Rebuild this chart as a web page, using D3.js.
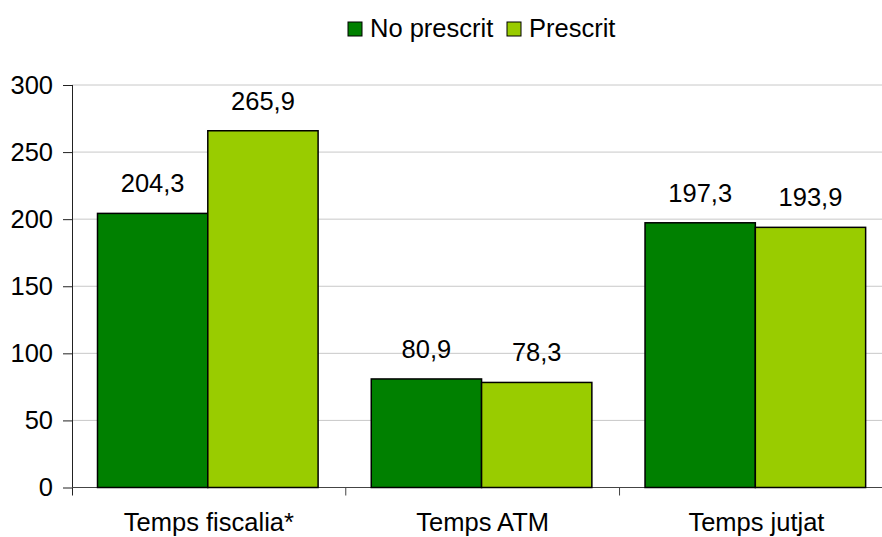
<!DOCTYPE html>
<html>
<head>
<meta charset="utf-8">
<script src="https://cdn.jsdelivr.net/npm/d3@7"></script>
<style>
  body { margin: 0; background: #fff; }
  svg text { font-family: "Liberation Sans", Arial, sans-serif; fill: #000; }
</style>
</head>
<body>
<svg id="chart" width="882" height="537"></svg>
<script>
var categories = ["Temps fiscalia*", "Temps ATM", "Temps jutjat"];
var seriesNames = ["No prescrit", "Prescrit"];
var noPrescrit = [204.3, 80.9, 197.3];
var prescrit = [265.9, 78.3, 193.9];
var yTicks = [0, 50, 100, 150, 200, 250, 300];
var colors = ["#008000", "#99CC00"];

var svg = d3.select("#chart");
var fontSize = 25.5;

// eixos
var x0 = d3.scaleBand().domain(categories).range([72, 893.3]);
var x1 = d3.scaleBand().domain(seriesNames).range([25.5, 246.1]);
var y = d3.scaleLinear().domain([0, 300]).range([487.5, 85]);

var fmt = v => d3.format(".1f")(v).replace(".", ",");

// línies de quadrícula
svg.append("g")
  .selectAll("line")
  .data(yTicks.filter(d => d > 0))
  .enter()
  .append("line")
  .attr("x1", 72)
  .attr("x2", 882)
  .attr("y1", d => y(d))
  .attr("y2", d => y(d))
  .attr("stroke", "#c8c8c8")
  .attr("stroke-width", 1);

// eix Y
var yAxis = svg.append("g")
  .attr("transform", "translate(72,0)")
  .call(d3.axisLeft(y).tickValues(yTicks).tickSize(9).tickPadding(10).tickFormat(d => d));
yAxis.select(".domain").attr("stroke", "#222").attr("d", "M0.5," + y(300) + "V" + (y(0) + 8));
yAxis.selectAll(".tick line").attr("stroke", "#222");
yAxis.selectAll("text").style("font-size", fontSize + "px").attr("fill", "#000");

// eix X
svg.append("line")
  .attr("x1", 72).attr("x2", 882)
  .attr("y1", y(0)).attr("y2", y(0))
  .attr("stroke", "#444").attr("stroke-width", 1);

svg.append("g")
  .selectAll("line")
  .data(categories.slice(1))
  .enter()
  .append("line")
  .attr("x1", d => x0(d))
  .attr("x2", d => x0(d))
  .attr("y1", y(0))
  .attr("y2", y(0) + 8)
  .attr("stroke", "#444");

svg.append("g")
  .selectAll("text")
  .data(categories)
  .enter()
  .append("text")
  .attr("x", d => x0(d) + x0.bandwidth() / 2)
  .attr("y", 531)
  .attr("text-anchor", "middle")
  .style("font-size", fontSize + "px")
  .text(d => d);

// barres
var rows = categories.map((c, i) => ({ cat: c, vals: [noPrescrit[i], prescrit[i]] }));
var groups = svg.selectAll("g.grp")
  .data(rows)
  .enter()
  .append("g")
  .attr("class", "grp")
  .attr("transform", d => "translate(" + x0(d.cat) + ",0)");

groups.selectAll("rect")
  .data(d => d.vals.map((v, j) => ({ name: seriesNames[j], v: v, j: j })))
  .enter()
  .append("rect")
  .attr("x", d => x1(d.name))
  .attr("y", d => y(d.v))
  .attr("width", x1.bandwidth())
  .attr("height", d => y(0) - y(d.v))
  .attr("fill", d => colors[d.j])
  .attr("stroke", "#000")
  .attr("stroke-width", 1.5);

groups.selectAll("text")
  .data(d => d.vals.map((v, j) => ({ name: seriesNames[j], v: v })))
  .enter()
  .append("text")
  .attr("x", d => x1(d.name) + x1.bandwidth() / 2)
  .attr("y", d => y(d.v) - 21)
  .attr("text-anchor", "middle")
  .style("font-size", fontSize + "px")
  .text(d => fmt(d.v));

// llegenda
var legendX = [348, 507];
var legend = svg.append("g")
  .selectAll("g")
  .data(seriesNames)
  .enter()
  .append("g")
  .attr("transform", (d, i) => "translate(" + legendX[i] + ",22)");

legend.append("rect")
  .attr("width", 14)
  .attr("height", 14)
  .attr("fill", (d, i) => colors[i])
  .attr("stroke", "#000")
  .attr("stroke-width", 1);

legend.append("text")
  .attr("x", 22)
  .attr("y", 15)
  .style("font-size", fontSize + "px")
  .text(d => d);
</script>
</body>
</html>
